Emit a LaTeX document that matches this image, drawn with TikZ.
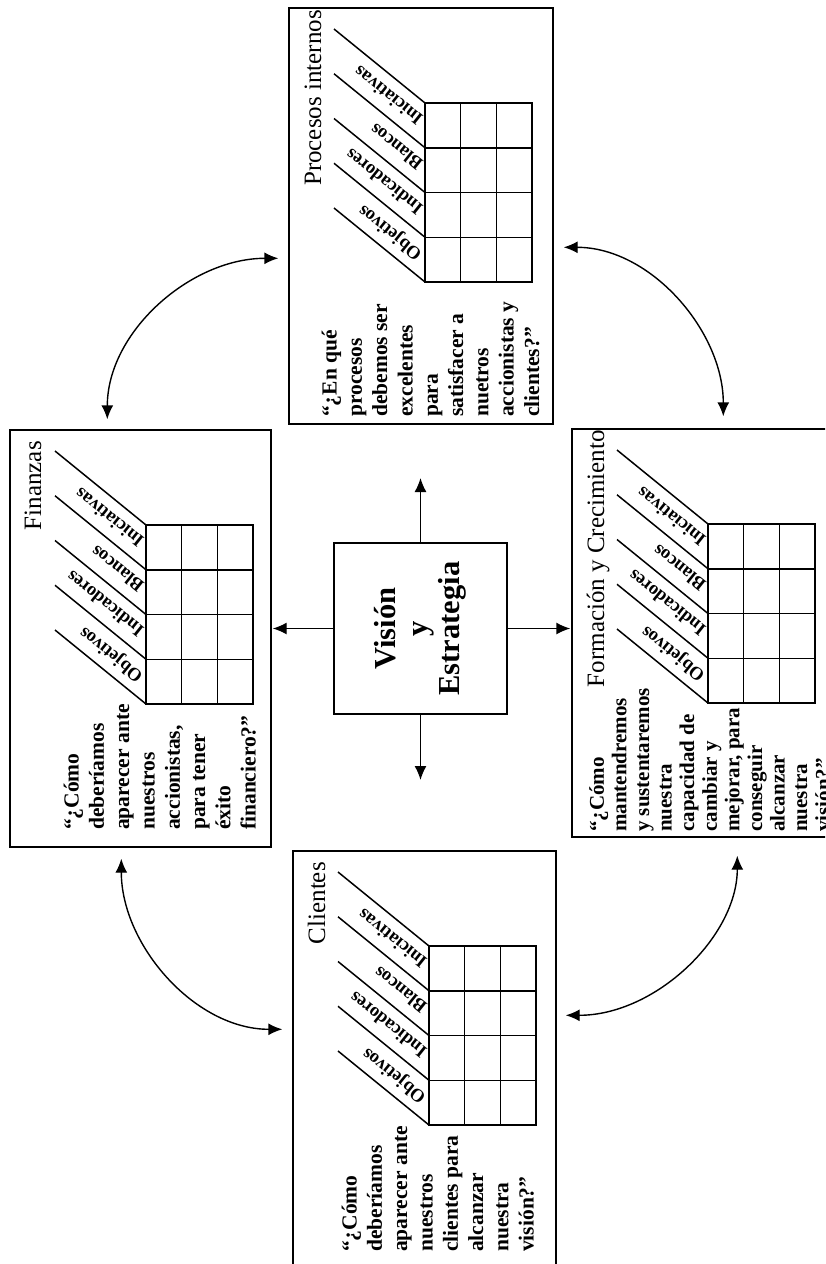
\documentclass[tikz,border=0pt]{standalone}
\usepackage{fontspec}
\setmainfont{Liberation Serif}
\usetikzlibrary{arrows.meta,calc}

\tikzset{
  panel/.style={draw, line width=1.4pt, rectangle, inner sep=0pt},
  cell/.style={line width=1.5pt},
  link/.style={line width=1.4pt},
  >={Latex[length=14pt,width=12pt]},
  colhead/.style={rotate=141.2, anchor=west, inner sep=0pt,
    font=\bfseries\fontsize{18.5}{20}\selectfont},
  paneltitle/.style={rotate=90, anchor=base east, inner sep=0pt,
    font=\fontsize{25}{28}\selectfont},
  question/.style={rotate=90, anchor=north west, align=left, inner sep=0pt,
    font=\bfseries\fontsize{21.5}{25.3}\selectfont},
}

% One perspective of the scorecard: frame, 4x3 grid and slanted column heads.
% #1 name, #2 left, #3 top, #4 right, #5 bottom (y measured downwards)
\newcommand\bscpanel[5]{%
  \pgfmathsetmacro\pw{#4-#2}%
  \pgfmathsetmacro\ph{#5-#3}%
  \pgfmathsetmacro\pcx{(#2+#4)/2}%
  \pgfmathsetmacro\pcy{-(#3+#5)/2}%
  \node[panel, minimum width=\pw pt, minimum height=\ph pt] (#1) at (\pcx,\pcy) {};
  \pgfmathsetmacro\gx{#2+136}%
  \pgfmathsetmacro\gy{#3+95}%
  \draw[cell] (\gx,-\gy) rectangle ({\gx+107},{-\gy-179});
  \foreach \i in {1,2} \draw[cell] ({\gx+35.7*\i},-\gy) -- ++(0,-179);
  \foreach \j in {1,2,3} \draw[cell] (\gx,{-\gy-44.75*\j}) -- ++(107,0);
  \foreach \j in {0,...,4} \draw[cell] (\gx,{-\gy-44.75*\j}) -- ++(-91,74);
  \foreach \lab [count=\j from 0] in {Iniciativas,Blancos,Indicadores,Objetivos}
    \node[colhead] (#1-h\j) at ($(\gx,{-\gy-44.75*(\j+0.5)})+(141.2:6)$) {\lab};
}

\begin{document}
\begin{tikzpicture}[x=1pt,y=1pt]
  \useasboundingbox (0,0) rectangle (825,-1264);
  \clip (0,0) rectangle (825,-1264);

  % the four perspectives
  \bscpanel{fin}{10}{430}{271}{847}
  \bscpanel{pro}{289}{8}{553}{424}
  \bscpanel{cli}{293}{851}{556}{1270}
  \bscpanel{for}{572}{429}{835}{837}

  \node[paneltitle] (fin-t) at (41,-441) {Finanzas};
  \node[paneltitle] (pro-t) at (321,-10) {Procesos internos};
  \node[paneltitle] (cli-t) at (325,-862) {Clientes};
  \node[paneltitle] (for-t) at (604,-430) {Formación y Crecimiento};

  \node[question] (fin-q) at (63.5,-830)
    {“¿Cómo\\deberíamos\\aparecer ante\\nuestros\\accionistas,\\para tener\\éxito\\financiero?”};
  \node[question] (pro-q) at (321.5,-417)
    {“¿En qué\\procesos\\debemos ser\\excelentes\\para\\satisfacer a\\nuetros\\accionistas y\\clientes?”};
  \node[question] (cli-q) at (341.5,-1252)
    {“¿Cómo\\deberíamos\\aparecer ante\\nuestros\\clientes para\\alcanzar\\nuestra\\visión?”};
  \node[question, font=\bfseries\fontsize{21}{22.6}\selectfont] (for-q) at (589,-832)
    {“¿Cómo\\mantendremos\\y sustentaremos\\nuestra\\capacidad de\\cambiar y\\mejorar, para\\conseguir\\alcanzar\\nuestra\\visión?”};

  % vision and strategy in the middle
  \node[panel, minimum width=173pt, minimum height=171pt] (vis) at (420.5,-628.5) {};
  \node[rotate=90, align=center, inner sep=0pt,
        font=\bfseries\fontsize{30.5}{32}\selectfont] (vis-t) at (vis.center)
    {Visión\\y\\Estrategia};

  \coordinate (upend) at (420.5,-478);
  \coordinate (downend) at (420.5,-780);
  \draw[link,->] (vis.north) -- (upend);
  \draw[link,->] (vis.south) -- (downend);
  \draw[link,->,shorten >=1pt] (vis.west) -- (vis.west -| fin.east);
  \draw[link,->,shorten >=1pt] (vis.east) -- (vis.east -| for.west);

  % links between neighbouring perspectives
  \draw[link,<->,shorten <=10pt,shorten >=10pt]
    ([xshift=98pt]fin.north west) to[out=90,in=180] ([yshift=-251pt]pro.north west);
  \draw[link,<->,shorten <=10pt,shorten >=12pt]
    ([yshift=-240pt]pro.north east) to[out=0,in=90] ([xshift=152pt]for.north west);
  \draw[link,<->,shorten <=11pt,shorten >=10pt]
    ([xshift=112pt]fin.south west) to[out=-90,in=180] ([yshift=-179pt]cli.north west);
  \draw[link,<->,shorten <=18pt,shorten >=9pt]
    ([xshift=166pt]for.south west) to[out=-90,in=0] ([yshift=-165pt]cli.north east);
\end{tikzpicture}
\end{document}
